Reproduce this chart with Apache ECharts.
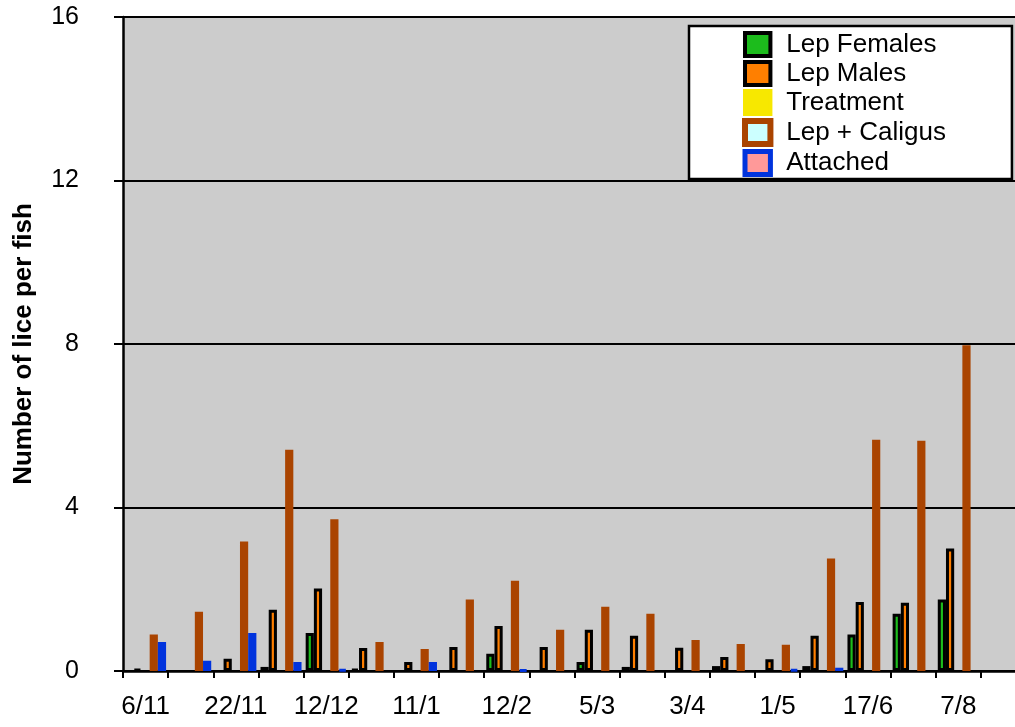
<!DOCTYPE html>
<html>
<head>
<meta charset="utf-8">
<script src="https://cdn.jsdelivr.net/npm/echarts@6/dist/echarts.min.js"></script>
<style>
html, body {margin: 0; padding: 0; background: #fff;}
#chart {width: 1015px; height: 727px;}
</style>
</head>
<body>
<div id="chart"></div>
<script>
// dates, only every second one is labelled on the original
var dates = ['6/11', '', '22/11', '', '12/12', '', '11/1', '', '12/2', '', '5/3', '', '3/4', '', '1/5', '', '17/6', '', '7/8', ''];
var lepFemales = [null, null, null, 0.1, 0.93, 0.05, null, null, 0.42, null, 0.22, 0.1, null, 0.12, null, 0.12, 0.89, 1.4, 1.75, null];
var lepMales = [0.05, null, 0.3, 1.5, 2.02, 0.56, 0.22, 0.59, 1.1, 0.59, 1.01, 0.86, 0.57, 0.34, 0.29, 0.86, 1.69, 1.67, 3.0, null];
var treatment = [null, null, null, null, null, null, null, null, null, null, null, null, null, null, null, null, null, null, null, null];
var lepCaligus = [0.89, 1.45, 3.17, 5.41, 3.71, 0.71, 0.54, 1.75, 2.21, 1.01, 1.57, 1.4, 0.76, 0.66, 0.64, 2.75, 5.66, 5.63, 7.97, null];
var attached = [0.71, 0.25, 0.93, 0.22, 0.04, null, 0.22, null, 0.03, null, null, null, null, null, 0.04, 0.08, null, null, null, null];
var yTicks = [0, 4, 8, 12, 16];

var font = 'Liberation Sans, Arial, sans-serif';
var box = 'path://M0,0L21,0L21,19L0,19Z';

function bars(name, data, fill, border) {
    return {
        name: name,
        type: 'bar',
        data: data,
        barWidth: 8.2,
        barGap: '0%',
        itemStyle: {color: fill, borderColor: border, borderWidth: 3},
        emphasis: {disabled: true}
    };
}

var chart = echarts.init(document.getElementById('chart'));
chart.setOption({
    animation: false,
    grid: {
        left: 123, top: 17, bottom: 56, right: -11,
        outerBoundsMode: 'none',
        show: true, backgroundColor: '#cccccc', borderWidth: 0
    },
    legend: {
        orient: 'vertical',
        left: 689, top: 26,
        padding: [5, 66, 2, 53],
        backgroundColor: '#ffffff',
        borderColor: '#000', borderWidth: 2.5,
        itemWidth: 47, itemHeight: 23, itemGap: 2,
        symbolKeepAspect: true,
        selectedMode: false,
        textStyle: {fontFamily: font, fontSize: 26, color: '#000'},
        data: [
            {name: 'Lep Females', icon: box, itemStyle: {color: '#1cbc1c', borderColor: '#000', borderWidth: 4}},
            {name: 'Lep Males', icon: box, itemStyle: {color: '#ff7f00', borderColor: '#000', borderWidth: 4}},
            {name: 'Treatment', icon: box, itemStyle: {color: '#f7e800', borderColor: '#f7e800', borderWidth: 4}},
            {name: 'Lep + Caligus', icon: box, itemStyle: {color: '#ccffff', borderColor: '#aa4400', borderWidth: 6}},
            {name: 'Attached', icon: box, itemStyle: {color: '#ff9999', borderColor: '#0033dd', borderWidth: 5}}
        ]
    },
    xAxis: {
        type: 'category',
        data: dates,
        axisLine: {lineStyle: {color: '#000', width: 2.5}},
        axisTick: {show: true, interval: 0, length: 7, lineStyle: {color: '#000', width: 2}},
        axisLabel: {interval: 0, margin: 23, fontFamily: font, fontSize: 26, color: '#000'},
        splitLine: {show: false}
    },
    yAxis: {
        type: 'value',
        min: yTicks[0], max: yTicks[yTicks.length - 1], interval: 4,
        name: 'Number of lice per fish',
        nameLocation: 'middle', nameRotate: 90, nameGap: 86,
        nameTextStyle: {fontFamily: font, fontSize: 26, fontWeight: 'bold', color: '#000'},
        axisLine: {show: true, lineStyle: {color: '#000', width: 2.5}},
        axisTick: {show: true, length: 9, lineStyle: {color: '#000', width: 2}},
        axisLabel: {margin: 44, fontFamily: font, fontSize: 25, color: '#000'},
        splitLine: {show: true, lineStyle: {color: '#000', width: 2}}
    },
    series: [
        bars('Lep Females', lepFemales, '#1cbc1c', '#000'),
        bars('Lep Males', lepMales, '#ff7f00', '#000'),
        bars('Treatment', treatment, '#f7e800', '#f7e800'),
        bars('Lep + Caligus', lepCaligus, '#aa4400', '#aa4400'),
        bars('Attached', attached, '#0033dd', '#0033dd')
    ]
});
</script>
</body>
</html>
